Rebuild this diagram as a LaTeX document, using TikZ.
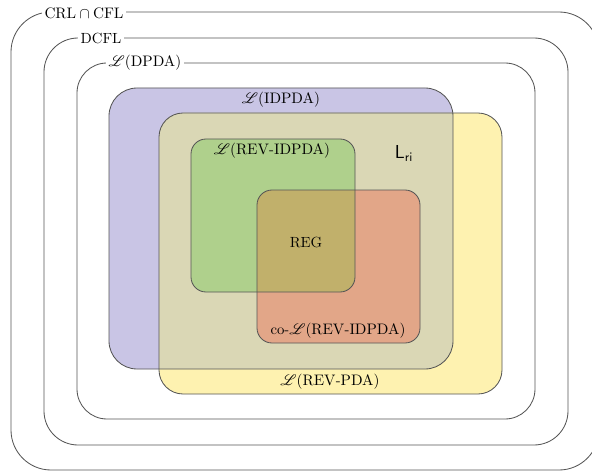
\documentclass[tikz,border=0pt]{standalone}
\usepackage{mathrsfs}
\definecolor{lineclr}{HTML}{555555}
\definecolor{idpdaclr}{HTML}{C9C5E5}
\definecolor{revpdaclr}{HTML}{FEF2B0}
\definecolor{bothclr}{HTML}{DAD7B5}
\definecolor{revidpdaclr}{HTML}{AFD08C}
\definecolor{coclr}{HTML}{E2A688}
\definecolor{regclr}{HTML}{C1B06B}
\newcommand{\Lang}{\mathscr{L}}
\begin{document}
\begin{tikzpicture}[x=0.72pt,y=-0.72pt,
  every node/.style={font=\fontsize{10.6}{12}\selectfont},
  classline/.style={draw=lineclr,line width=0.6pt},
  onlinelabel/.style={fill=white,inner sep=2pt},
  inlabel/.style={inner sep=1pt}]
\useasboundingbox (0,0) rectangle (592,472);
\clip (0,0) rectangle (592,472);
\fill[white] (0,0) rectangle (592,472);

% nested outer classes
\draw[classline,rounded corners=28.8pt] (11,12) rectangle (599,470);
\draw[classline,rounded corners=24.5pt] (44,38) rectangle (568,445);
\draw[classline,rounded corners=21.6pt] (77,63) rectangle (535,419);

\node[onlinelabel] (crl) at (84,13) {$\mathrm{CRL}\cap\mathrm{CFL}$};
\node[onlinelabel] (dcfl) at (101,38) {DCFL};
\node[onlinelabel] (dpda) at (145,63) {$\Lang(\mathrm{DPDA})$};

% filled regions
\fill[idpdaclr,rounded corners=20.2pt] (109,88) rectangle (453,369);
\fill[revpdaclr,rounded corners=17.3pt] (159,113) rectangle (502,394);
\begin{scope}
  \clip[rounded corners=20.2pt] (109,88) rectangle (453,369);
  \fill[bothclr,rounded corners=17.3pt] (159,113) rectangle (502,394);
\end{scope}
\fill[revidpdaclr,rounded corners=10.8pt] (191,139) rectangle (355,292);
\fill[coclr,rounded corners=10.8pt] (257,190) rectangle (420,343);
\begin{scope}
  \clip[rounded corners=10.8pt] (191,139) rectangle (355,292);
  \fill[regclr,rounded corners=10.8pt] (257,190) rectangle (420,343);
\end{scope}

% borders of the filled regions
\draw[classline,rounded corners=20.2pt] (109,88) rectangle (453,369);
\draw[classline,rounded corners=17.3pt] (159,113) rectangle (502,394);
\draw[classline,rounded corners=10.8pt] (191,139) rectangle (355,292);
\draw[classline,rounded corners=10.8pt] (257,190) rectangle (420,343);

% labels
\node[inlabel] (idpda) at (281,100) {$\Lang(\mathrm{IDPDA})$};
\node[inlabel] (revidpda) at (272,151) {$\Lang(\mathrm{REV\mbox{-}IDPDA})$};
\node[inlabel,font=\fontsize{13.5}{15}\sffamily] (lri) at (404,153) {L$_{\mathsf{ri}}$};
\node[inlabel] (reg) at (306,242) {REG};
\node[inlabel] (corev) at (338,331) {co-$\Lang(\mathrm{REV\mbox{-}IDPDA})$};
\node[inlabel] (revpda) at (330,382) {$\Lang(\mathrm{REV\mbox{-}PDA})$};
\end{tikzpicture}
\end{document}
